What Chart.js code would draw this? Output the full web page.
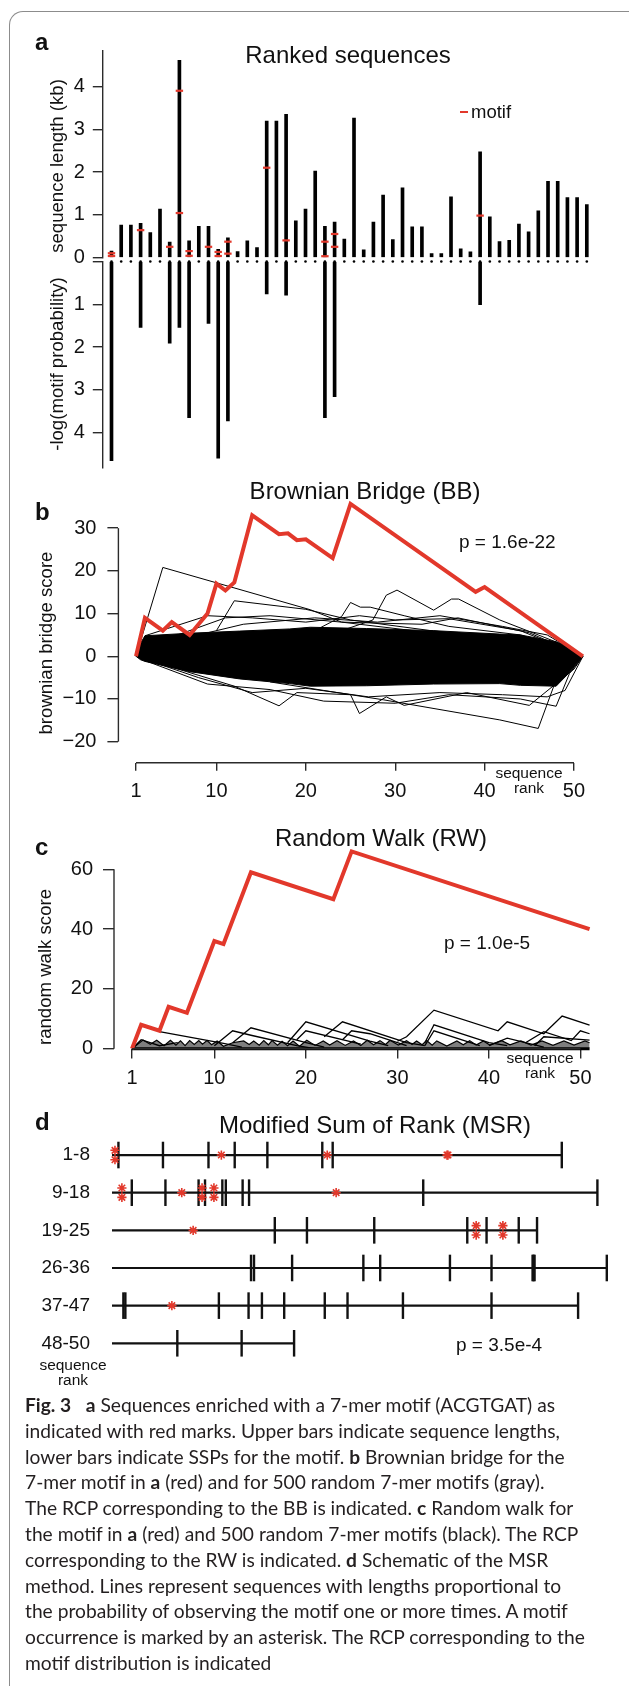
<!DOCTYPE html>
<html><head><meta charset="utf-8">
<script src="https://cdn.jsdelivr.net/npm/chart.js@4.4.0/dist/chart.umd.min.js"></script>
<style>
html,body{margin:0;padding:0;background:#fff}
body{width:629px;height:1689px;position:relative;overflow:hidden;font-family:'Liberation Sans',Arial,Helvetica,sans-serif;color:#111}
canvas{position:absolute;left:0}
.t{position:absolute;white-space:nowrap;line-height:1.15}
#frame{position:absolute;left:9px;top:11px;width:700px;height:1674px;border-top:1.5px solid #8c8c8c;border-left:1.5px solid #8c8c8c;border-top-left-radius:14px}
.cap{position:absolute;left:25px;font-family:Lato,'Open Sans',sans-serif;font-size:19px;line-height:25.8px;white-space:nowrap;color:#231f20;transform-origin:0 50%}
.cap b{font-weight:bold}
</style></head><body>
<div id="frame"></div>
<canvas id="cA1"></canvas>
<canvas id="cA2"></canvas>
<canvas id="cB"></canvas>
<canvas id="cC"></canvas>
<canvas id="cD"></canvas>
<script>
// ---------------- DATA ----------------
// Panel a: ranked sequences
const seqRank = [1,2,3,4,5,6,7,8,9,10,11,12,13,14,15,16,17,18,19,20,21,22,23,24,25,26,27,28,29,30,31,32,33,34,35,36,37,38,39,40,41,42,43,44,45,46,47,48,49,50];
const seqLengthKb = [0.15,0.76,0.76,0.80,0.58,1.13,0.36,4.61,0.39,0.73, 0.73,0.19,0.46,0.14,0.39,0.23,3.19,3.19,3.35,0.86, 1.13,2.02,0.73,0.83,0.43,3.26,0.18,0.83,1.46,0.42, 1.63,0.72,0.72,0.09,0.09,1.42,0.20,0.13,2.47,0.95, 0.37,0.40,0.78,0.60,1.09,1.78,1.78,1.40,1.40,1.24];
const motifRank = [1,4,7,8,9,11,12,13,17,19,23,24,39];
const sspScore = [4.66,1.54,1.91,1.54,3.65,1.45,4.60,3.73,0.76,0.79,3.65,3.16,1.01];
const motifMarkRank = [1,1,4,7,8,8,9,9,11,12,12,13,13,17,19,23,23,24,24,39];
const motifMarkKb = [0.10,0.035,0.64,0.25,3.90,1.04,0.15,0.04,0.25,0.13,0.035,0.37,0.09,2.10,0.40,0.37,0.03,0.55,0.25,0.98];
const aTicks = [0,1,2,3,4];

// Panel b: Brownian bridge
const bbXTicks = [1,10,20,30,40,50];
const bbYTicks = [-20,-10,0,10,20,30];
const bbRedX = [1,2,4,5,7,8,9,10,11,12,14,17,18,19,20,23,25,39,40,51];
const bbRedY = [0,9,6,8,5,7.5,10,17,15.4,17.3,33,28.6,28.8,27.2,27.4,23,35.7,15.1,16.2,0];
const bbBandX = [1,1.5,2,7,12.6,18.2,20.5,26.8,34.3,41.7,44,48,49.4,51];
const bbBandTop = [0,3,4.8,5.4,5.9,6.4,6.8,6.5,6,5.2,5,3.4,2,0];
const bbBandBottom = [0,-0.8,-1.2,-3.6,-5.3,-6.4,-7,-6.9,-6.5,-6.4,-6.8,-7,-4,0];
const bbLine1 = [[1,0],[4,20.8],[20.5,10.9],[24,8],[32,6],[42,4],[51,0]];
const bbLine2 = [[10,6],[12,13],[20,11],[25,8.5],[34,6],[44,4],[51,0]];
const bbLine3 = [[24,6],[27.5,8.5],[29,14.3],[30.2,15.5],[34.3,10.8],[36.3,13.4],[37.1,13.4],[41.7,8.5],[46,5],[49,2.5],[51,0]];
const bbLine4 = [[21,6],[24,9.3],[25,12.6],[26.1,11.5],[27.2,11.5],[31,9.5],[36,7],[44,5],[51,0]];
const bbLine5 = [[2,4.8],[9,9.5],[14,9],[20,8],[26,9.5],[30,8.5],[36,8.8],[44,6],[51,0]];
const bbLine6 = [[3,3],[11,9],[16,9.5],[24,8],[33,7.5],[37,9],[45,5.5],[51,0]];
const bbLine7 = [[6,4],[13,7.5],[21,9],[28,8],[35,9.5],[42,7],[47,5],[51,0]];
const bbLine8 = [[1,0],[8,-5],[14,-8.5],[20,-7.5],[27,-9.5],[35,-8.5],[42,-9],[47,-9.5],[49,-8],[51,0]];
const bbLine9 = [[1,0],[12,-7],[17,-11.6],[19,-8.5],[25,-9],[26,-13.4],[29,-9.5],[31,-11.5],[38,-8.5],[45,-11.5],[50,-3],[51,0]];
const bbLine10 = [[16,-6],[22,-8],[28.7,-10.2],[41.7,-14.9],[46,-16.9],[48,-5.5],[51,0]];
const bbLine11 = [[2,-1],[9,-6.5],[16,-7.8],[22,-10.5],[30,-11],[36,-9],[44,-10],[48,-11.7],[49.5,-4],[51,0]];

// Panel c: random walk
const rwXTicks = [1,10,20,30,40,50];
const rwYTicks = [0,20,40,60];
const rwRedX = [1,2,4,5,7,10,11,14,23,25,51];
const rwRedY = [0,8,6,14,12,36,35,59,50,66,40];
const rwBase = [[1,0],[51,0]];
const rwSaw = [[1,0],[2.2,2.9],[3,1.5],[3.7,2.8],[4.5,1],[5.2,2.8],[5.8,1.2],[6.3,2.6],[6.8,1],[7.3,2.7],[7.8,1.4],[8.3,2.7],[8.7,1.5],[9.2,2.7],[9.7,1.3],[10.3,2.6],[11,0.8],[12,2],[13.2,2.6],[13.8,1.4],[14.3,2.6],[14.9,1.2],[15.4,2.7],[15.9,1.3],[16.3,2.7],[16.9,1.2],[17.4,2.5],[18,1],[18.6,2.6],[19.3,0.8],[20.1,2.8],[21,1.1],[21.9,2.6],[22.6,1.2],[23.4,2.7],[24.3,1.1],[25.2,2.6],[26,1.1],[26.7,2.8],[27.4,1.3],[28.1,2.7],[28.7,1.4],[29.2,2.8],[30.1,1.2],[31,2.7],[31.6,1.4],[32.1,2.6],[32.7,1.3],[33.2,2.7],[33.8,1.2],[34.3,2.6],[35.4,0.9],[36.5,2.6],[37.2,1.3],[37.9,2.7],[38.6,1.2],[39.4,2.6],[40.1,1.2],[41.4,2.7],[42.3,1.3],[43.5,2.6],[44.6,1.2],[45.8,2.6],[47,1.1],[48.2,2.6],[49.3,1.2],[50.5,2.6],[51,2]];
const rwLine1 = [[4,5.7],[11,1.8],[13,0.5]];
const rwLine2 = [[10,1],[12,6],[14,4.5],[19,1],[21,0]];
const rwLine3 = [[12,2],[14,7],[19.7,2.3],[22,0.5]];
const rwLine4 = [[18,2],[19,5.5],[20,9],[27,2.5],[29,1]];
const rwLine5 = [[19,3],[20,6],[26,1.5]];
const rwLine6 = [[22,4],[24,9],[31,2],[33,1]];
const rwLine7 = [[24,3],[25,6],[27,5],[31,1]];
const rwLine8 = [[30,2.5],[31,4],[34,12.9],[41,6],[42,9],[46,5],[48,10.9],[51,7.9]];
const rwLine9 = [[33,2],[34,8],[40,2],[42,1]];
const rwLine10 = [[33,1],[34,6],[39,1]];
const rwLine11 = [[44,2],[46,5.7],[49,2.7],[50,6],[51,5]];
const rwLine12 = [[40,1],[42,3.5],[46,0.5]];
const rwLine13 = [[45,1],[46,4],[51,2.9]];
const rwLine14 = [[1,0],[2,3],[4,1],[6,2]];

// Panel d: modified sum of rank (cumulative probability position of each sequence end)
const msrGroups = ['1-8','9-18','19-25','26-36','37-47','48-50'];
const msrTicks1 = [0.013,0.103,0.195,0.248,0.314,0.425,0.446,0.909];
const msrTicks2 = [0.040,0.108,0.175,0.188,0.223,0.230,0.264,0.277,0.629,0.981];
const msrTicks3 = [0.329,0.394,0.530,0.718,0.757,0.822,0.859];
const msrTicks4 = [0.281,0.287,0.364,0.508,0.542,0.683,0.767,0.850,0.852,0.854,1.000];
const msrTicks5 = [0.023,0.027,0.216,0.276,0.303,0.348,0.430,0.476,0.588,0.767,0.942];
const msrTicks6 = [0.132,0.262,0.368];
const msrStars1 = [0.006,0.006,0.221,0.435,0.677,0.679];
const msrStars2 = [0.020,0.020,0.141,0.182,0.182,0.206,0.206,0.453];
const msrStars3 = [0.164,0.736,0.736,0.790,0.790];
const msrStars4 = [];
const msrStars5 = [0.121];
const msrStars6 = [];

// ---------------- DRAWING ----------------
const RED = '#e2382b', INK = '#111', AX = '#2b2b2b';
Chart.defaults.font.family = "'Liberation Sans', Arial, Helvetica, sans-serif";
Chart.defaults.color = INK;

const rAxis = {
  id: 'rAxis',
  afterDatasetsDraw(chart, args, o) {
    if (!o || (!o.y && !o.x)) return;
    const ctx = chart.ctx, a = chart.chartArea;
    ctx.save(); ctx.strokeStyle = AX; ctx.lineWidth = 1.4;
    if (o.y) { const s = chart.scales.y; ctx.beginPath(); ctx.moveTo(a.left, s.getPixelForValue(o.y[0])); ctx.lineTo(a.left, s.getPixelForValue(o.y[1])); ctx.stroke(); }
    if (o.x) { const s = chart.scales.x; ctx.beginPath(); ctx.moveTo(s.getPixelForValue(o.x[0]), a.bottom); ctx.lineTo(s.getPixelForValue(o.x[1]), a.bottom); ctx.stroke(); }
    ctx.restore();
  }
};
Chart.register(rAxis);

function setup(id, top, h, area, xShown) {
  const c = document.getElementById(id);
  c.width = 629; c.height = h; c.style.top = top + 'px'; c.style.width = '629px'; c.style.height = h + 'px';
  return { canvas: c, padding: {left: 0, right: 629 - area.r, top: area.t - top, bottom: xShown ? 0 : (top + h - area.b)}, yW: area.l, xH: top + h - area.b };
}
const base = (L, extra) => Object.assign({
  responsive: false, animation: false, devicePixelRatio: 1, events: [],
  layout: {padding: L.padding, autoPadding: false},
  plugins: {legend: {display: false}, tooltip: {enabled: false}}
}, extra);
const pts = arr => arr.map(p => ({x: p[0], y: p[1]}));
const zip = (xs, ys) => xs.map((x, i) => ({x: x, y: ys[i]}));
const minus = v => v < 0 ? '\u2212' + Math.abs(v) : String(v);
function thin(arr, w) { return {type: 'line', data: pts(arr), borderColor: '#000', borderWidth: w || 1, pointRadius: 0, fill: false, tension: 0, order: 2, clip: false}; }
function yAxisOpts(L, tickArr, o) {
  return Object.assign({
    afterFit: s => { s.width = L.yW; },
    afterBuildTicks: s => { s.ticks = tickArr.map(v => ({value: v})); },
    ticks: {font: {size: 20}, color: INK, padding: o.pad, callback: o.cb || minus},
    grid: {drawOnChartArea: false, drawTicks: true, tickLength: o.tl, color: AX, lineWidth: 1.4},
    border: {display: !!o.border, color: AX, width: 1.4}
  }, o.extra || {});
}
function xAxisOpts(L, tickArr, o) {
  return Object.assign({
    type: 'linear', offset: false,
    afterFit: s => { s.height = L.xH; },
    afterBuildTicks: s => { s.ticks = tickArr.map(v => ({value: v})); },
    ticks: {font: {size: 20}, color: INK, padding: o.pad, maxRotation: 0, autoSkip: false, callback: v => String(v)},
    grid: {drawOnChartArea: false, drawTicks: true, tickLength: o.tl, color: AX, lineWidth: 1.4, offset: false},
    border: {display: false}
  }, o.extra || {});
}

// Panel a upper
const LA1 = setup('cA1', 15, 280, {l: 102.4, r: 610, t: 50.2, b: 257.5}, false);
new Chart(LA1.canvas, {
  type: 'bar',
  data: {datasets: [
    {type: 'scatter', order: 0, data: zip(motifMarkRank, motifMarkKb), pointStyle: 'line', pointRadius: 3.7, pointBorderColor: RED, pointBorderWidth: 2.2, borderColor: RED, borderWidth: 2.2, clip: false},
    {type: 'bar', order: 1, data: zip(seqRank, seqLengthKb), backgroundColor: '#000', barThickness: 3}
  ]},
  options: base(LA1, {scales: {
    x: {type: 'linear', min: 0.062, max: 52.39, display: false, offset: false, grid: {offset: false}},
    y: yAxisOpts(LA1, aTicks, {pad: 8, tl: 9.6, border: true, cb: v => String(v), extra: {min: 0, max: 4.849}})
  }})
});

// Panel a lower
const LA2 = setup('cA2', 225, 275, {l: 102.4, r: 610, t: 261.5, b: 468}, false);
new Chart(LA2.canvas, {
  type: 'bar',
  data: {datasets: [
    {type: 'scatter', order: 1, data: seqRank.map(r => ({x: r, y: 0})), pointRadius: 1.3, pointBackgroundColor: '#000', pointBorderWidth: 0, clip: false},
    {type: 'bar', order: 0, data: zip(motifRank, sspScore), backgroundColor: '#000', barThickness: 3}
  ]},
  options: base(LA2, {scales: {
    x: {type: 'linear', min: 0.062, max: 52.39, display: false, offset: false, grid: {offset: false}},
    y: yAxisOpts(LA2, aTicks, {pad: 8, tl: 9.6, border: true, cb: v => v === 0 ? '' : String(v), extra: {min: 0, max: 4.83, reverse: true}})
  }})
});

// Panel b
const LB = setup('cB', 455, 355, {l: 118.4, r: 600, t: 494, b: 762.7}, true);
new Chart(LB.canvas, {
  type: 'line',
  data: {datasets: [
    {data: zip(bbRedX, bbRedY), borderColor: RED, borderWidth: 4, pointRadius: 0, tension: 0, order: 0, clip: false, borderJoinStyle: 'miter'},
    thin(bbLine1), thin(bbLine2), thin(bbLine3), thin(bbLine4), thin(bbLine5), thin(bbLine6),
    thin(bbLine7), thin(bbLine8), thin(bbLine9), thin(bbLine10), thin(bbLine11),
    {data: zip(bbBandX, bbBandTop), fill: '+1', backgroundColor: '#000', borderColor: '#000', borderWidth: 1, pointRadius: 0, tension: 0, order: 3},
    {data: zip(bbBandX, bbBandBottom), fill: false, borderColor: '#000', borderWidth: 1, pointRadius: 0, tension: 0, order: 3}
  ]},
  options: base(LB, {
    plugins: {legend: {display: false}, tooltip: {enabled: false}, rAxis: {y: [-20, 30], x: [1, 50]}},
    scales: {
      x: xAxisOpts(LB, bbXTicks, {pad: 9, tl: 8, extra: {min: -0.969, max: 52.91}}),
      y: yAxisOpts(LB, bbYTicks, {pad: 11, tl: 11, extra: {min: -24.92, max: 38.0}})
    }
  })
});

// Panel c
const LC = setup('cC', 805, 295, {l: 114, r: 600, t: 845.4, b: 1048.7}, true);
new Chart(LC.canvas, {
  type: 'line',
  data: {datasets: [
    {data: zip(rwRedX, rwRedY), borderColor: RED, borderWidth: 4, pointRadius: 0, tension: 0, order: 0, clip: false, borderJoinStyle: 'miter'},
    thin(rwBase, 3),
    {type: 'line', data: pts(rwSaw), borderColor: '#000', borderWidth: 1.2, pointRadius: 0, tension: 0, fill: 'origin', backgroundColor: 'rgba(0,0,0,0.5)', order: 3, clip: false},
    thin(rwLine1, 1.3), thin(rwLine2, 1.3), thin(rwLine3, 1.3), thin(rwLine4, 1.3), thin(rwLine5, 1.3),
    thin(rwLine6, 1.3), thin(rwLine7, 1.3), thin(rwLine8, 1.3), thin(rwLine9, 1.3), thin(rwLine10, 1.3),
    thin(rwLine11, 1.3), thin(rwLine12, 1.3), thin(rwLine13, 1.3), thin(rwLine14, 1.3)
  ]},
  options: base(LC, {
    plugins: {legend: {display: false}, tooltip: {enabled: false}, rAxis: {y: [0, 60], x: [1, 50]}},
    scales: {
      x: xAxisOpts(LC, rwXTicks, {pad: 7.6, tl: 9.7, extra: {min: -0.967, max: 52.14}}),
      y: yAxisOpts(LC, rwYTicks, {pad: 10, tl: 11, extra: {min: 0, max: 68.0}})
    }
  })
});

// Panel d
const LD = setup('cD', 1100, 295, {l: 112, r: 606.8, t: 1136.2, b: 1362.1}, false);
const msrTickRows = [msrTicks1, msrTicks2, msrTicks3, msrTicks4, msrTicks5, msrTicks6];
const msrStarRows = [msrStars1, msrStars2, msrStars3, msrStars4, msrStars5, msrStars6];
function starPts(arr, row) {
  const cnt = {}, used = {};
  arr.forEach(v => { const k = v.toFixed(3); cnt[k] = (cnt[k] || 0) + 1; });
  return arr.map(v => { const k = v.toFixed(3); if (cnt[k] > 1) { used[k] = (used[k] || 0) + 1; return {x: v, y: row + (used[k] === 1 ? -0.125 : 0.125)}; } return {x: v, y: row}; });
}
const dSets = [];
msrTickRows.forEach((t, i) => dSets.push({type: 'line', data: [{x: 0, y: i + 1}, {x: t[t.length - 1], y: i + 1}], borderColor: INK, borderWidth: 2.2, pointRadius: 0, order: 3, clip: false}));
dSets.push({type: 'scatter', data: msrTickRows.flatMap((t, i) => t.map(v => ({x: v, y: i + 1}))), pointStyle: 'line', pointRotation: 90, pointRadius: 13.3, pointBorderColor: INK, pointBorderWidth: 2.4, borderColor: INK, order: 2, clip: false});
dSets.push({type: 'scatter', data: msrStarRows.flatMap((s, i) => starPts(s, i + 1)), pointStyle: 'star', pointRadius: 4.6, pointBorderColor: RED, pointBorderWidth: 1.6, borderColor: RED, order: 0, clip: false});
new Chart(LD.canvas, {
  type: 'scatter',
  data: {datasets: dSets},
  options: base(LD, {scales: {
    x: {type: 'linear', min: 0, max: 1, display: false},
    y: {type: 'linear', min: 0.5, max: 6.5, reverse: true,
        afterFit: s => { s.width = LD.yW; },
        afterBuildTicks: s => { s.ticks = msrGroups.map((g, i) => ({value: i + 1})); },
        ticks: {font: {size: 19}, color: INK, padding: 14, callback: v => msrGroups[v - 1]},
        grid: {display: false}, border: {display: false}}
  }})
});

// ---------------- TEXT ----------------
function txt(s, x, y, o) {
  o = o || {};
  const d = document.createElement('div'); d.className = 't'; d.textContent = s;
  d.style.fontSize = (o.size || 20) + 'px';
  if (o.bold) d.style.fontWeight = 'bold';
  if (o.color) d.style.color = o.color;
  d.style.left = x + 'px'; d.style.top = y + 'px';
  const tx = o.align === 'left' ? '0' : (o.align === 'right' ? '-100%' : '-50%');
  d.style.transform = 'translate(' + tx + ',-50%)' + (o.rot ? ' rotate(' + o.rot + 'deg)' : '');
  document.body.appendChild(d);
  return d;
}
// panel letters
txt('a', 35, 42, {size: 24, bold: true, align: 'left'});
txt('b', 35, 512, {size: 24, bold: true, align: 'left'});
txt('c', 35, 847, {size: 24, bold: true, align: 'left'});
txt('d', 35, 1122, {size: 24, bold: true, align: 'left'});
// titles
txt('Ranked sequences', 348, 55, {size: 24});
txt('Brownian Bridge (BB)', 365, 491, {size: 24});
txt('Random Walk (RW)', 381, 838, {size: 24});
txt('Modified Sum of Rank (MSR)', 375, 1125, {size: 24});
// axis titles
txt('sequence length (kb)', 57, 165.7, {size: 18.6, rot: -90});
txt('-log(motif probability)', 57, 363.7, {size: 18.6, rot: -90});
txt('brownian bridge score', 46, 643, {size: 18.6, rot: -90});
txt('random walk score', 45, 966.7, {size: 18.6, rot: -90});
// legend
const dash = document.createElement('div');
dash.style.cssText = 'position:absolute;left:460px;top:111px;width:8px;height:2.2px;background:' + RED;
document.body.appendChild(dash);
txt('motif', 471, 112, {size: 18.5, align: 'left'});
// p-values
txt('p = 1.6e-22', 459, 541.7, {size: 19, align: 'left'});
txt('p = 1.0e-5', 444, 943, {size: 19, align: 'left'});
txt('p = 3.5e-4', 456, 1345, {size: 19, align: 'left'});
// sequence rank labels
txt('sequence', 529, 773, {size: 15.5}); txt('rank', 529, 788, {size: 15.5});
txt('sequence', 540, 1058, {size: 15.5}); txt('rank', 540, 1073, {size: 15.5});
txt('sequence', 73, 1365, {size: 15.5}); txt('rank', 73, 1380, {size: 15.5});

// caption
const capLines = [
  '<b>Fig. 3</b>&ensp; <b>a</b> Sequences enriched with a 7-mer motif (ACGTGAT) as',
  'indicated with red marks. Upper bars indicate sequence lengths,',
  'lower bars indicate SSPs for the motif. <b>b</b> Brownian bridge for the',
  '7-mer motif in <b>a</b> (red) and for 500 random 7-mer motifs (gray).',
  'The RCP corresponding to the BB is indicated. <b>c</b> Random walk for',
  'the motif in <b>a</b> (red) and 500 random 7-mer motifs (black). The RCP',
  'corresponding to the RW is indicated. <b>d</b> Schematic of the MSR',
  'method. Lines represent sequences with lengths proportional to',
  'the probability of observing the motif one or more times. A motif',
  'occurrence is marked by an asterisk. The RCP corresponding to the',
  'motif distribution is indicated'
];
const capEls = capLines.map((h, i) => {
  const d = document.createElement('div'); d.className = 'cap'; d.innerHTML = h;
  d.style.top = (1392 + i * 25.8) + 'px'; document.body.appendChild(d); return d;
});
function fitCap() {
  const w = capEls[0].getBoundingClientRect().width / (capEls[0]._s || 1);
  const s = 530 / w;
  capEls.forEach(e => { e._s = s; e.style.transform = 'scaleX(' + s + ')'; });
}
fitCap();
if (document.fonts && document.fonts.ready) document.fonts.ready.then(fitCap);
</script>
</body></html>
